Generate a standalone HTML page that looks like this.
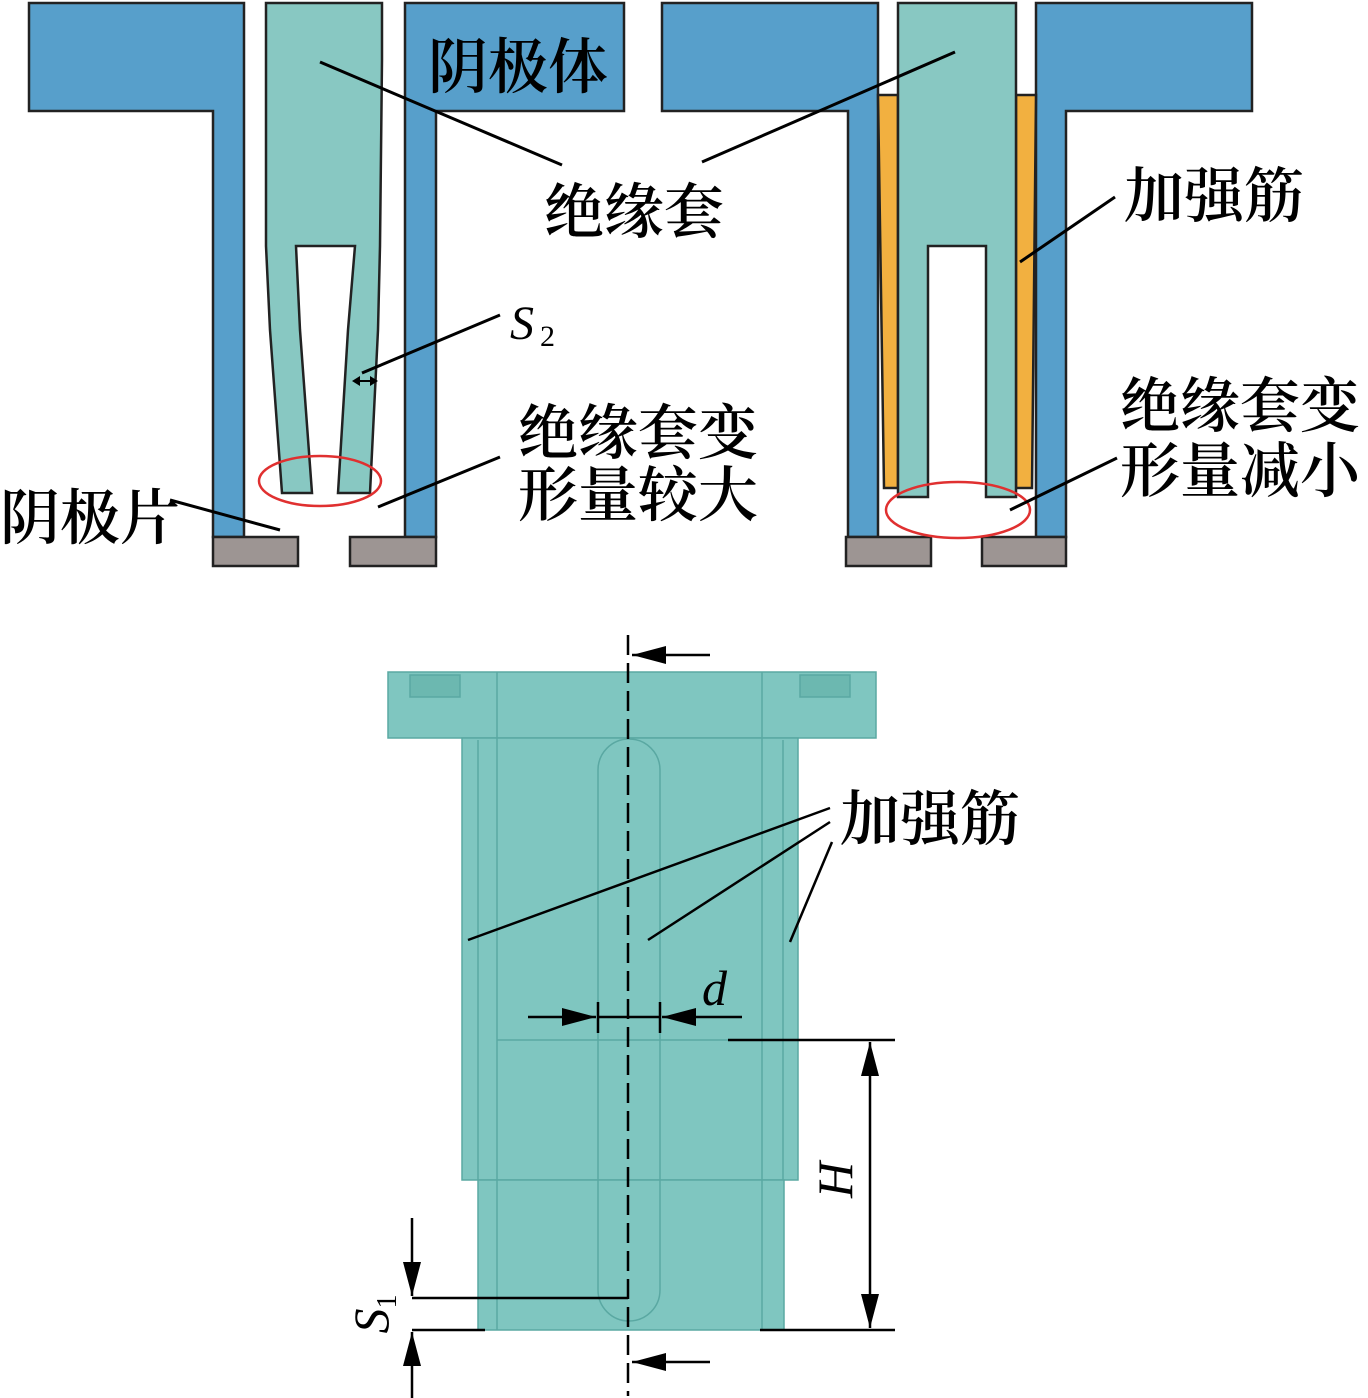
<!DOCTYPE html>
<html><head><meta charset="utf-8"><style>
html,body{margin:0;padding:0;background:#fff}
svg{display:block}
text{font-family:"Liberation Serif","Noto Serif CJK SC",serif;fill:#000}
</style></head><body>
<svg width="1368" height="1398" viewBox="0 0 1368 1398" xmlns="http://www.w3.org/2000/svg">
<defs>
<marker id="ah" markerWidth="36" markerHeight="22" refX="34" refY="11" orient="auto" markerUnits="userSpaceOnUse"><path d="M0,2L34,11L0,20z" fill="#000"/></marker>
</defs>
<g stroke="#222" stroke-width="2.5">
<path d="M29,3H244V537H213V111H29Z" fill="#579fcb"/>
<path d="M405,3H624V111H436V537H405Z" fill="#579fcb"/>
<path d="M266,3H382V60L380,246 L378,330 L370,493H338L348,330L355,246H296L300,330L312,493H282L270,330L266,246Z" fill="#88c8c2"/>
<rect x="213" y="537" width="85" height="29" fill="#9d9593"/>
<rect x="350" y="537" width="86" height="29" fill="#9d9593"/>
<path d="M662,3H878V537H848V111H662Z" fill="#579fcb"/>
<path d="M1036,3H1252V111H1066V537H1036Z" fill="#579fcb"/>
<path d="M878,95H898V488H884Z" fill="#f2b040"/>
<path d="M1016,95H1036L1032,488H1016Z" fill="#f2b040"/>
<path d="M898,3H1016V497H986V246H928V497H898Z" fill="#88c8c2"/>
<rect x="846" y="537" width="85" height="29" fill="#9d9593"/>
<rect x="982" y="537" width="84" height="29" fill="#9d9593"/>
</g>
<ellipse cx="320" cy="481" rx="61" ry="25" fill="none" stroke="#e03030" stroke-width="2.5"/>
<ellipse cx="958" cy="510" rx="72" ry="28" fill="none" stroke="#e03030" stroke-width="2.5"/>
<g stroke="#000" stroke-width="3">
<line x1="320" y1="62" x2="562" y2="165"/>
<line x1="702" y1="162" x2="955" y2="52"/>
<line x1="500" y1="315" x2="362" y2="373"/>
<line x1="500" y1="457" x2="378" y2="507"/>
<line x1="170" y1="500" x2="280" y2="530"/>
<line x1="1115" y1="197" x2="1020" y2="262"/>
<line x1="1117" y1="458" x2="1010" y2="510"/>
</g>
<line x1="354" y1="381" x2="376" y2="381" stroke="#000" stroke-width="2"/>
<path d="M352,381l8,-5v10z M378,381l-8,-5v10z" fill="#000"/>
<g font-size="60" font-weight="600">
<text x="428" y="88">阴极体</text>
<text x="544" y="233">绝缘套</text>
<text x="518" y="454">绝缘套变</text>
<text x="518" y="516">形量较大</text>
<text x="0" y="539">阴极片</text>
<text x="1124" y="217">加强筋</text>
<text x="1120" y="427">绝缘套变</text>
<text x="1120" y="492">形量减小</text>
<text x="840" y="840">加强筋</text>
</g>
<text x="510" y="339" font-size="48" font-style="italic">S</text>
<text x="540" y="346" font-size="30">2</text>
<g stroke="#5aa8a2" stroke-width="1.5">
<rect x="388" y="672" width="488" height="66" fill="#7fc6c0"/>
<rect x="462" y="738" width="336" height="442" fill="#7fc6c0"/>
<rect x="478" y="1180" width="306" height="150" fill="#7fc6c0"/>
<line x1="478" y1="740" x2="478" y2="1180"/>
<line x1="783" y1="740" x2="783" y2="1180"/>
<line x1="497" y1="672" x2="497" y2="1330"/>
<line x1="762" y1="672" x2="762" y2="1330"/>
<line x1="497" y1="1040" x2="762" y2="1040"/>
<path d="M598,1290V770A31,31 0 0 1 660,770V1290A31,31 0 0 1 598,1290" fill="none"/>
<rect x="410" y="675" width="50" height="22" fill="#6cb8b0"/>
<rect x="800" y="675" width="50" height="22" fill="#6cb8b0"/>
</g>
<line x1="628" y1="635" x2="628" y2="1396" stroke="#000" stroke-width="2.5" stroke-dasharray="20,8"/>
<g stroke="#000" stroke-width="2.5" fill="none">
<line x1="710" y1="655" x2="632" y2="655" marker-end="url(#ah)"/>
<line x1="710" y1="1362" x2="632" y2="1362" marker-end="url(#ah)"/>
<line x1="528" y1="1017" x2="596" y2="1017" marker-end="url(#ah)"/>
<line x1="742" y1="1017" x2="662" y2="1017" marker-end="url(#ah)"/>
<line x1="598" y1="1017" x2="660" y2="1017"/>
<line x1="598" y1="1002" x2="598" y2="1033"/>
<line x1="660" y1="1002" x2="660" y2="1033"/>
<line x1="728" y1="1040" x2="895" y2="1040"/>
<line x1="760" y1="1330" x2="895" y2="1330"/>
<line x1="870" y1="1185" x2="870" y2="1042" marker-end="url(#ah)"/>
<line x1="870" y1="1185" x2="870" y2="1328" marker-end="url(#ah)"/>
<line x1="412" y1="1298" x2="628" y2="1298"/>
<line x1="412" y1="1330" x2="485" y2="1330"/>
<line x1="412" y1="1218" x2="412" y2="1296" marker-end="url(#ah)"/>
<line x1="412" y1="1398" x2="412" y2="1332" marker-end="url(#ah)"/>
<line x1="830" y1="808" x2="468" y2="940"/>
<line x1="830" y1="822" x2="648" y2="940"/>
<line x1="832" y1="842" x2="790" y2="942"/>
</g>
<text x="702" y="1005" font-size="50" font-style="italic">d</text>
<text transform="translate(852,1180) rotate(-90)" font-size="50" font-style="italic" text-anchor="middle">H</text>
<g transform="translate(388,1314) rotate(-90)"><text font-size="50" font-style="italic" text-anchor="middle">S<tspan font-size="28" font-style="normal" dy="8">1</tspan></text></g>
</svg>
</body></html>
